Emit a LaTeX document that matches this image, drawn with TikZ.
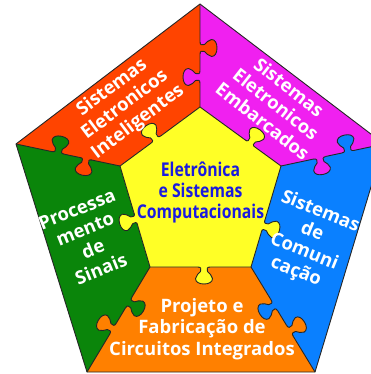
\documentclass[tikz,border=0pt]{standalone}
\usepackage{fontspec}
\setmainfont{Open Sans}
\newfontfamily\condfont{Open Sans}[FakeStretch=0.83]
\definecolor{cred}{HTML}{FF4400}
\definecolor{cmag}{HTML}{F020F0}
\definecolor{cblue}{HTML}{0A80FF}
\definecolor{cgreen}{HTML}{0A850A}
\definecolor{corange}{HTML}{FF8000}
\definecolor{cyellow}{HTML}{FFFF26}
\definecolor{ctext}{HTML}{1A1AE0}
\definecolor{cline}{HTML}{262626}
\newcommand{\knobpath}{.. controls (-3,0) and (-2.5,2) .. (-3.5,4.5)
  .. controls (-5,7) and (-8.5,8) .. (-8.5,11.5)
  .. controls (-8.5,15) and (-5,17) .. (0,17)
  .. controls (5,17) and (8.5,15) .. (8.5,11.5)
  .. controls (8.5,8) and (5,7) .. (3.5,4.5)
  .. controls (2.5,2) and (3,0) .. (6,0)}
\newcommand{\knob}[4]{%
  \begin{scope}[shift={(#1,-#2)}, rotate=#3]
    \fill[#4] (-6,-1.3) -- (-6,0) \knobpath -- (6,-1.3) -- cycle;
    \draw[edge] (-6,0) \knobpath;
  \end{scope}}
\begin{document}
\begin{tikzpicture}[x=1pt,y=1pt,
  edge/.style={draw=cline, line width=0.9pt, line join=round},
  wlabel/.style={text=white, font=\fontsize{18.5}{21.5}\selectfont\bfseries, align=center, inner sep=0pt},
  clabel/.style={text=ctext, font=\condfont\fontsize{19}{21}\selectfont\bfseries, align=center, inner sep=0pt}]
\useasboundingbox (0,0) rectangle (371,-374);
\clip (0,0) rectangle (371,-374);
\coordinate (T) at (200,-4);
\coordinate (L) at (16,-144);
\coordinate (R) at (384,-144);
\coordinate (BL) at (87,-372);
\coordinate (BR) at (315,-372);
\coordinate (IT) at (200,-107);
\coordinate (IL) at (120,-166);
\coordinate (IR) at (281,-166);
\coordinate (IBL) at (150,-267);
\coordinate (IBR) at (251,-267);
\fill[cred] (T) -- (IT) -- (IL) -- (L) -- cycle;
\fill[cmag] (T) -- (R) -- (IR) -- (IT) -- cycle;
\fill[cblue] (R) -- (BR) -- (IBR) -- (IR) -- cycle;
\fill[corange] (BR) -- (BL) -- (IBL) -- (IBR) -- cycle;
\fill[cgreen] (BL) -- (L) -- (IL) -- (IBL) -- cycle;
\fill[cyellow] (IT) -- (IR) -- (IBR) -- (IBL) -- (IL) -- cycle;
\draw[edge] (T) -- (R) -- (BR) -- (BL) -- (L) -- cycle;
\draw[edge] (IT) -- (IR) -- (IBR) -- (IBL) -- (IL) -- cycle;
\draw[edge] (T) -- (IT) (L) -- (IL) (R) -- (IR) (BL) -- (IBL) (BR) -- (IBR);
\knob{200}{48}{-90}{cred}
\knob{200}{77}{90}{cmag}
\knob{156}{139.5}{36.4}{cyellow}
\knob{250}{143.6}{-36}{cyellow}
\knob{136}{219}{106.8}{cyellow}
\knob{263}{226}{-106.8}{cyellow}
\knob{204}{267}{180}{cyellow}
\knob{58}{152.9}{-12}{cgreen}
\knob{86}{158.6}{168}{cred}
\knob{348}{151.7}{12}{cblue}
\knob{319.6}{157.8}{-168}{cmag}
\knob{128.7}{302.5}{-121}{cgreen}
\knob{113}{328.8}{59}{corange}
\knob{274.4}{305.4}{121.3}{cblue}
\knob{289.9}{330.8}{-58.7}{corange}
\node[wlabel, rotate=37] (tred) at (125,-105) {Sistemas\\Eletronicos\\Inteligentes};
\node[wlabel, rotate=-38] (tmag) at (276,-104) {Sistemas\\Eletronicos\\Embarcados};
\node[wlabel, rotate=-22] (tblue) at (308,-242) {Sistemas\\de\\Comuni\\cação};
\node[wlabel, rotate=22] (tgreen) at (89,-239) {Processa\\mento\\de\\Sinais};
\node[wlabel] (torange) at (202,-329) {Projeto e\\Fabricação de\\Circuitos Integrados};
\node[clabel] (tcenter) at (200.5,-193) {Eletrônica\\e Sistemas\\Computacionais};
\end{tikzpicture}
\end{document}
